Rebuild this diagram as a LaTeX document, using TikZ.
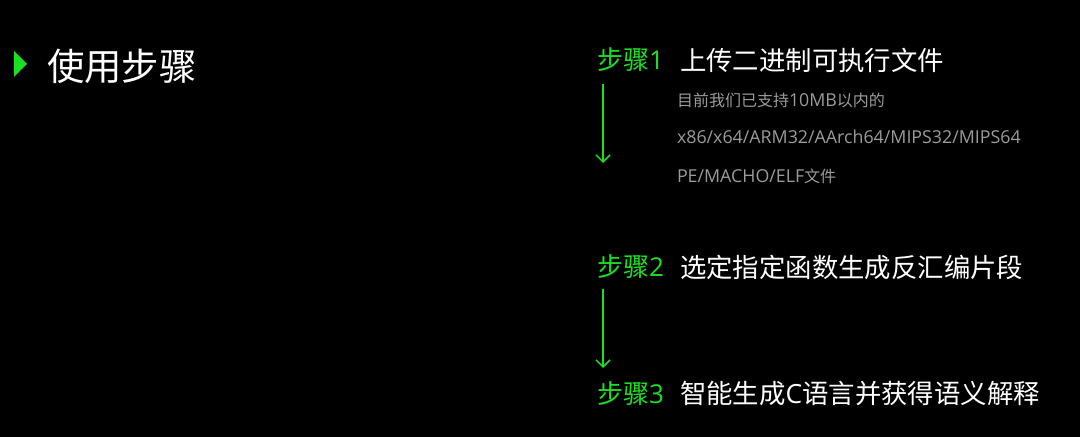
\documentclass[tikz,border=0pt]{standalone}
\usepackage{fontspec}
\setmainfont{Noto Sans CJK SC}
\newfontfamily\latinfont{Open Sans}
\newcommand{\notelatin}[1]{{\fontsize{8.9pt}{10pt}\latinfont #1}}
\usetikzlibrary{arrows.meta}
\definecolor{stepgreen}{RGB}{26,224,36}
\definecolor{notegray}{RGB}{155,155,155}
\begin{document}
\begin{tikzpicture}[x=0.5pt,y=-0.5pt,
  every node/.style={inner sep=0pt,outer sep=0pt,anchor=west},
  steplabel/.style={text=stepgreen,font=\fontsize{13pt}{15pt}\selectfont},
  steptext/.style={text=white,font=\fontsize{13.2pt}{15pt}\selectfont},
  note/.style={text=notegray,font=\fontsize{8pt}{10pt}\selectfont},
  flow/.style={draw=stepgreen,line width=0.75pt,-{Straight Barb[length=3.5pt,width=7pt]}}]
\fill[black] (0,0) rectangle (1080,437);
\useasboundingbox (0,0) rectangle (1080,437);
\fill[stepgreen] (14,51) -- (27,64) -- (14,77) -- cycle;
\node[text=white,font=\fontsize{18.7pt}{22pt}\selectfont] (title) at (47,66) {使用步骤};
\node[steplabel] (s1) at (597,60) {步骤{\latinfont 1}};
\node[steptext] (t1) at (680,60) {上传二进制可执行文件};
\node[note] (n1) at (677,100) {目前我们已支持\notelatin{10MB}以内的};
\node[note] (n2) at (677,137) {\notelatin{x86/x64/ARM32/AArch64/MIPS32/MIPS64}};
\node[note] (n3) at (677,176) {\notelatin{PE/MACHO/ELF}文件};
\node[steplabel] (s2) at (597,267) {步骤{\latinfont 2}};
\node[steptext] (t2) at (680,267) {选定指定函数生成反汇编片段};
\node[steplabel] (s3) at (597,394) {步骤{\latinfont 3}};
\node[steptext] (t3) at (680,394) {智能生成{\latinfont C}语言并获得语义解释};
\coordinate (a1s) at (603,84);
\coordinate (a1e) at (603,163);
\coordinate (a2s) at (603,289);
\coordinate (a2e) at (603,368);
\draw[flow] (a1s) -- (a1e);
\draw[flow] (a2s) -- (a2e);
\end{tikzpicture}
\end{document}
